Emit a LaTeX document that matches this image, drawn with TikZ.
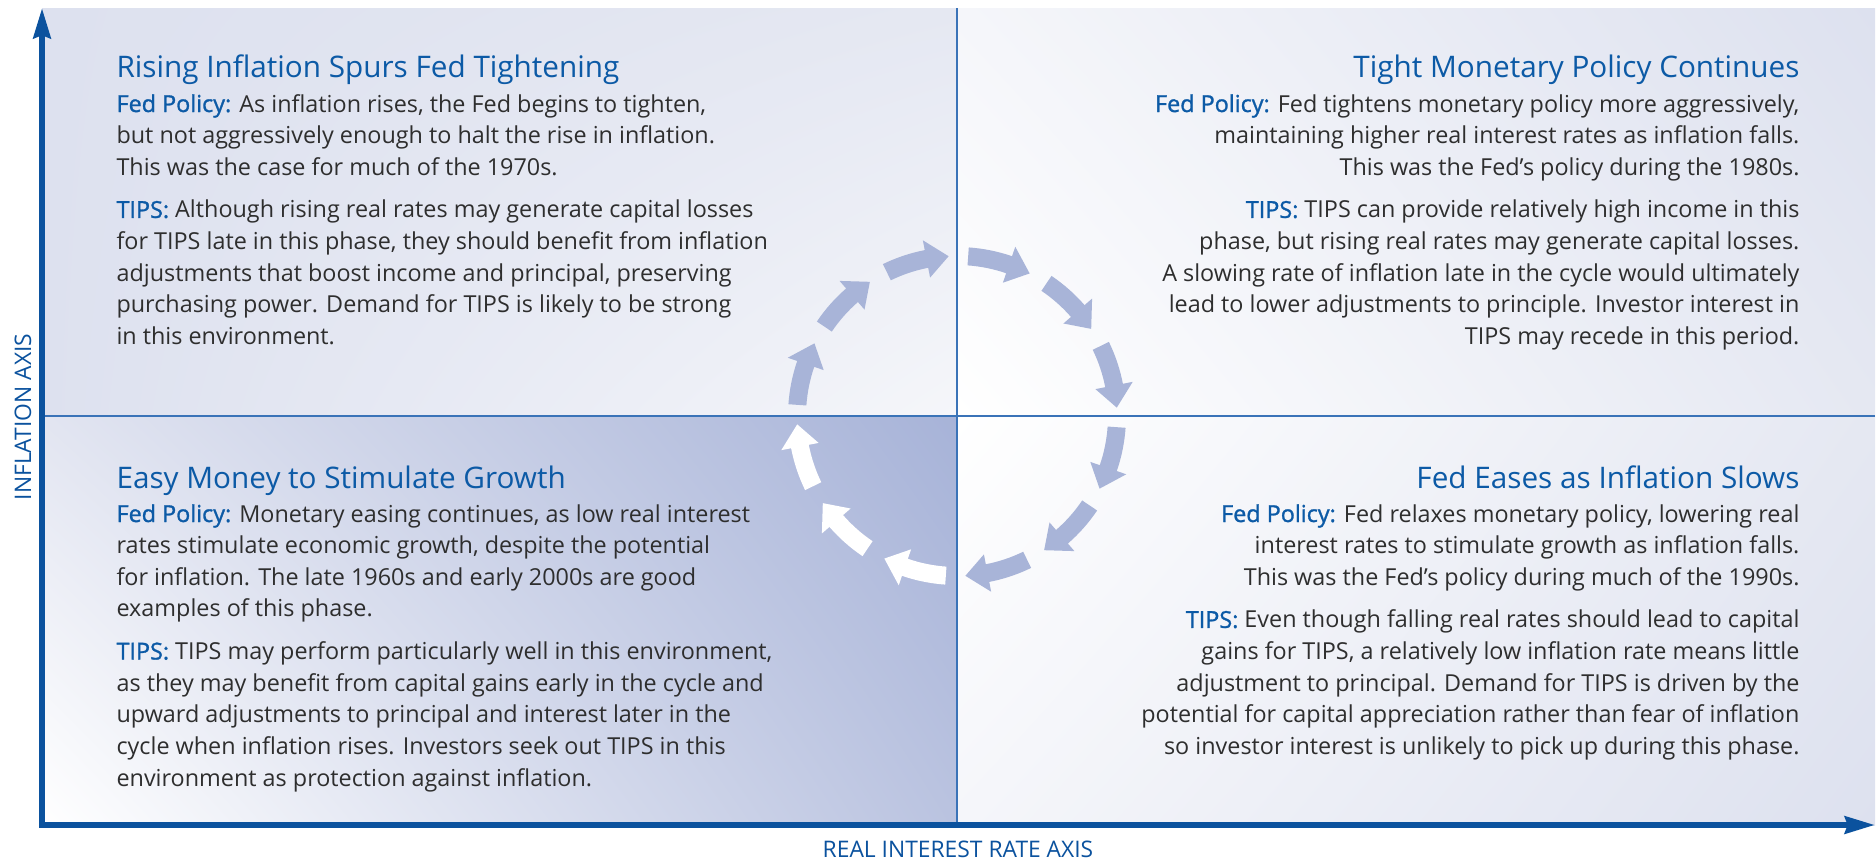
\documentclass[tikz,border=0pt]{standalone}
\usepackage{fontspec}
\setmainfont{Open Sans}
\newfontface\leadface{Open Sans}[FakeBold=1.2]
\usepackage{xcolor}
\usetikzlibrary{arrows.meta,shadings}

\definecolor{axisblue}{HTML}{0B529E}
\definecolor{lineblue}{HTML}{3A73B8}
\definecolor{headblue}{HTML}{0C5AA6}
\definecolor{bodygray}{HTML}{2E2E2E}
\definecolor{panel}{HTML}{DDE1EF}
\definecolor{panelmid}{HTML}{E5E8F2}
\definecolor{panelpale}{HTML}{F5F6FA}
\definecolor{turnfill}{HTML}{A8B4D8}
\definecolor{easyleft}{HTML}{E2E5F1}
\definecolor{easydeep}{HTML}{A7B3D8}
\definecolor{easylow}{HTML}{BAC3E0}

\newcommand{\leadin}[1]{\textcolor{headblue}{\leadface #1}}

\begin{document}
\begin{tikzpicture}[
    x=0.3636pt, y=-0.3636pt,
    axisline/.style={draw=axisblue, line width=2.2pt, line join=miter},
    divider/.style={draw=lineblue, line width=0.75pt},
    heading/.style={inner sep=0pt, text=headblue, font=\fontsize{10.8}{13}\selectfont},
    bodytext/.style={inner sep=0pt, text=bodygray, font=\fontsize{8.5}{11.5}\selectfont},
    axislabel/.style={inner sep=0pt, text=axisblue, font=\fontsize{8.3}{10}\selectfont}
]
    \useasboundingbox (0,0) rectangle (1876,859);

    \coordinate (origin) at (42,825);
    \coordinate (ytop) at (42,8);
    \coordinate (xend) at (1875,825);
    \coordinate (mid) at (957,416);

    % background of the four quadrants, pale towards the centre
    \shade[upper left=panel, upper right=panelmid, lower left=panel, lower right=panelpale]
        (origin |- ytop) rectangle (mid);
    \shade[upper left=panelpale, upper right=panel, lower left=white, lower right=panelmid]
        (mid |- ytop) rectangle (mid -| xend);
    \shade[upper left=white, upper right=panelmid, lower left=panelpale, lower right=panel]
        (mid) rectangle (xend);
    \shade[lower left=white, upper left=easyleft, upper right=easydeep, lower right=easylow]
        (origin) rectangle (mid);

    \draw[divider] (mid |- ytop) -- (mid |- origin);
    \draw[divider] (mid -| origin) -- (mid -| xend);

    \draw[axisline, {Stealth[length=10.9pt, width=6.2pt, inset=1pt]}-{Stealth[length=10.9pt, width=6.2pt, inset=1pt]}]
        (ytop) -- (origin) -- (xend);

    \node[axislabel, rotate=90, anchor=base] (inflation) at (31,417) {INFLATION AXIS};
    \node[axislabel, anchor=base] (realrate) at (958,857) {REAL INTEREST RATE AXIS};

    % clockwise ring of block arrows
    \begin{scope}[shift={(mid)}, y=0.3636pt]
        \foreach \a/\c in {116/turnfill, 86/turnfill, 56/turnfill, 26/turnfill,
                           -4/turnfill, -34/turnfill, -64/turnfill, -94/white,
                           -124/white, -154/white, -184/turnfill, -214/turnfill}
            \fill[\c] (\a:169) arc[start angle=\a, end angle=\a-15, radius=169]
                -- (\a-15:179) -- (\a-23:160) -- (\a-15:141) -- (\a-15:151)
                arc[start angle=\a-15, end angle=\a, radius=151] -- cycle;
    \end{scope}

    % upper left
    \node[heading, anchor=base west] (risetitle) at (116,77) {Rising Inflation Spurs Fed Tightening};
    \node[bodytext, anchor=base west] (risetext) at (116,112) {\begin{tabular}[t]{@{}l@{}}
        \leadin{Fed Policy:} As inflation rises, the Fed begins to tighten,\\
        but not aggressively enough to halt the rise in inflation.\\
        This was the case for much of the 1970s.\\[4pt]
        \leadin{TIPS:} Although rising real rates may generate capital losses\\
        for TIPS late in this phase, they should benefit from inflation\\
        adjustments that boost income and principal, preserving\\
        purchasing power. Demand for TIPS is likely to be strong\\
        in this environment.
    \end{tabular}};

    % upper right
    \node[heading, anchor=base east] (tighttitle) at (1800,77) {Tight Monetary Policy Continues};
    \node[bodytext, anchor=base east] (tighttext) at (1800,112) {\begin{tabular}[t]{@{}r@{}}
        \leadin{Fed Policy:} Fed tightens monetary policy more aggressively,\\
        maintaining higher real interest rates as inflation falls.\\
        This was the Fed’s policy during the 1980s.\\[4pt]
        \leadin{TIPS:} TIPS can provide relatively high income in this\\
        phase, but rising real rates may generate capital losses.\\
        A slowing rate of inflation late in the cycle would ultimately\\
        lead to lower adjustments to principle. Investor interest in\\
        TIPS may recede in this period.
    \end{tabular}};

    % lower left
    \node[heading, anchor=base west] (easytitle) at (116,488) {Easy Money to Stimulate Growth};
    \node[bodytext, anchor=base west] (easytext) at (116,522) {\begin{tabular}[t]{@{}l@{}}
        \leadin{Fed Policy:} Monetary easing continues, as low real interest\\
        rates stimulate economic growth, despite the potential\\
        for inflation. The late 1960s and early 2000s are good\\
        examples of this phase.\\[4pt]
        \leadin{TIPS:} TIPS may perform particularly well in this environment,\\
        as they may benefit from capital gains early in the cycle and\\
        upward adjustments to principal and interest later in the\\
        cycle when inflation rises. Investors seek out TIPS in this\\
        environment as protection against inflation.
    \end{tabular}};

    % lower right
    \node[heading, anchor=base east] (easestitle) at (1800,488) {Fed Eases as Inflation Slows};
    \node[bodytext, anchor=base east] (easestext) at (1800,522) {\begin{tabular}[t]{@{}r@{}}
        \leadin{Fed Policy:} Fed relaxes monetary policy, lowering real\\
        interest rates to stimulate growth as inflation falls.\\
        This was the Fed’s policy during much of the 1990s.\\[4pt]
        \leadin{TIPS:} Even though falling real rates should lead to capital\\
        gains for TIPS, a relatively low inflation rate means little\\
        adjustment to principal. Demand for TIPS is driven by the\\
        potential for capital appreciation rather than fear of inflation\\
        so investor interest is unlikely to pick up during this phase.
    \end{tabular}};
\end{tikzpicture}
\end{document}
